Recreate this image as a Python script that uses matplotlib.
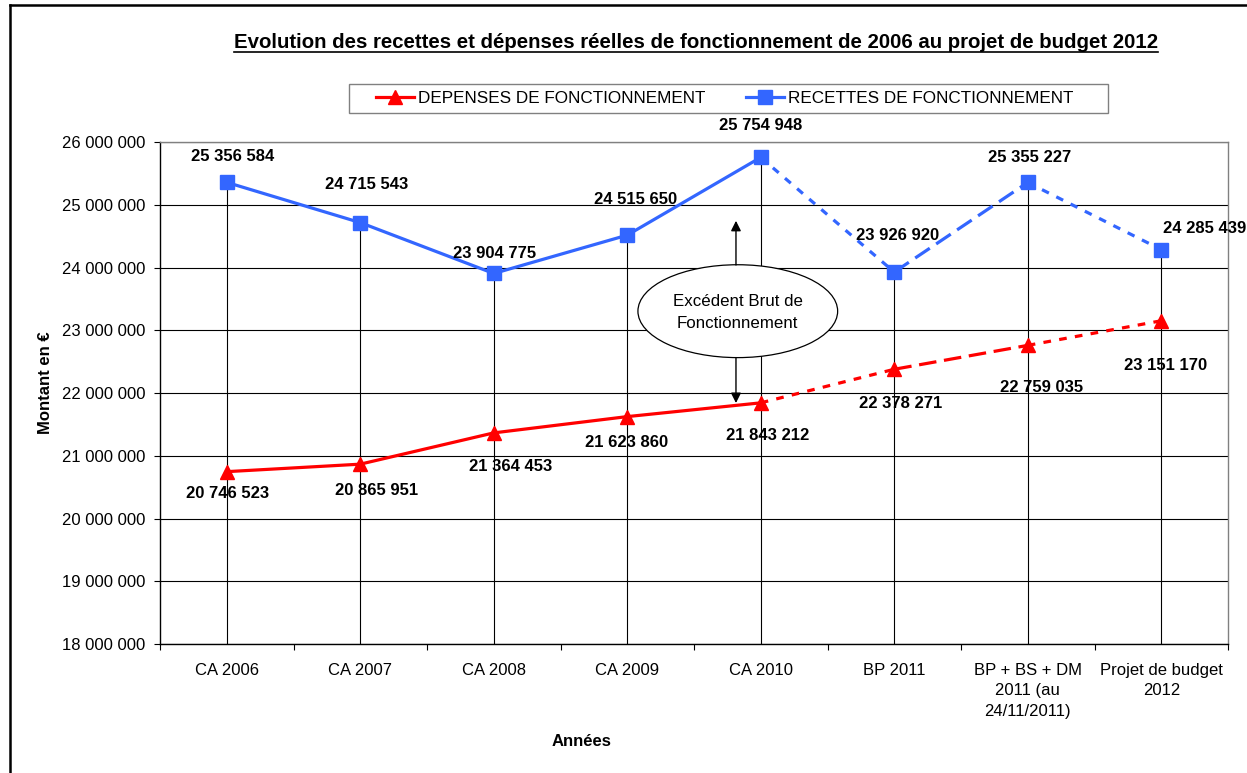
import matplotlib
matplotlib.use("Agg")
import matplotlib.pyplot as plt
from matplotlib.patches import Ellipse, Rectangle
from matplotlib.lines import Line2D
import matplotlib.ticker as mticker

plt.rcParams['font.family'] = ['Liberation Sans', 'DejaVu Sans']

# ---------------- data ----------------
categories = ["CA 2006", "CA 2007", "CA 2008", "CA 2009", "CA 2010", "BP 2011",
              "BP + BS + DM\n2011 (au\n24/11/2011)", "Projet de budget\n2012"]
depenses = [20746523, 20865951, 21364453, 21623860, 21843212, 22378271, 22759035, 23151170]
recettes = [25356584, 24715543, 23904775, 24515650, 25754948, 23926920, 25355227, 24285439]
y_ticks = [18000000, 19000000, 20000000, 21000000, 22000000, 23000000, 24000000, 25000000, 26000000]

title = "Evolution des recettes et dépenses réelles de fonctionnement de 2006 au projet de budget 2012"
legend_labels = ["DEPENSES DE FONCTIONNEMENT", "RECETTES DE FONCTIONNEMENT"]

# ---------------- styles / layout ----------------
W, H = 1247, 773
RED = "#FF0000"
BLUE = "#3366FF"
seg_styles = ['-', '-', '-', '-', (0, (2.4, 2.6)), (0, (5.5, 2.4)), (0, (2.4, 2.6))]
rec_offsets = [(6, 26), (6, 38), (1, 20), (8, 36), (0, 32), (3, 37), (2, 25), (43, 21)]
dep_offsets = [(1, -22), (16, -26), (17, -34), (-1, -26), (7, -33), (6, -34), (14, -42), (4, -45)]

def fmt(v):
    return f"{v:,.0f}".replace(",", " ")

fig = plt.figure(figsize=(W / 100, H / 100), dpi=100)
ax = fig.add_axes([160 / W, (H - 644) / H, (1228 - 160) / W, (644 - 142) / H])

x = list(range(len(categories)))

# drop lines
ax.vlines(x, y_ticks[0], [max(r, d) for r, d in zip(recettes, depenses)],
          color="black", lw=0.8, zorder=2)

LW = 2.3
for series, color, marker, ms in [(depenses, RED, '^', 9.5), (recettes, BLUE, 's', 9.4)]:
    for i in range(len(series) - 1):
        ax.plot([x[i], x[i + 1]], series[i:i + 2], color=color, lw=LW, ls=seg_styles[i],
                solid_capstyle='butt', dash_capstyle='butt', zorder=3)
    ax.plot(x, series, ls='none', marker=marker, ms=ms, color=color, mec=color, zorder=4)

for i, v in enumerate(recettes):
    ax.annotate(fmt(v), (x[i], v), xytext=rec_offsets[i], textcoords='offset pixels',
                ha='center', va='center', fontsize=12, weight='bold', zorder=6)
for i, v in enumerate(depenses):
    ax.annotate(fmt(v), (x[i], v), xytext=dep_offsets[i], textcoords='offset pixels',
                ha='center', va='center', fontsize=12, weight='bold', zorder=6)

# axes
ax.set_xlim(-0.5, len(categories) - 0.5)
ax.set_ylim(y_ticks[0], y_ticks[-1])
ax.set_yticks(y_ticks)
ax.yaxis.set_major_formatter(mticker.FuncFormatter(lambda v, p: fmt(v)))
ax.set_xticks(x)
ax.set_xticklabels(categories)
ax.set_xticks([i - 0.5 for i in range(len(categories) + 1)], minor=True)
ax.tick_params(axis='x', which='major', length=0, pad=14, labelsize=12)
ax.tick_params(axis='x', which='minor', length=4, width=0.8, direction='out', color='black')
ax.tick_params(axis='y', length=4, width=0.8, direction='out', pad=6.5, labelsize=12, color='black')
plt.setp(ax.get_xticklabels(), linespacing=1.42)
ax.yaxis.grid(True, color='black', lw=0.8)
ax.set_axisbelow(True)
for s in ['top', 'right']:
    ax.spines[s].set_color('#808080')
    ax.spines[s].set_linewidth(1.0)
for s in ['left', 'bottom']:
    ax.spines[s].set_color('black')
    ax.spines[s].set_linewidth(1.0)

# ellipse annotation
ell = Ellipse((0.541, 0.663), 0.187, 0.185, transform=ax.transAxes, fc='white',
              ec='black', lw=0.9, zorder=7)
ax.add_patch(ell)
ax.text(0.541, 0.660, "Excédent Brut de\nFonctionnement", transform=ax.transAxes,
        ha='center', va='center', fontsize=12.2, zorder=8, linespacing=1.6)
arrow_kw = dict(arrowstyle='-|>', color='black', lw=1.0, mutation_scale=15,
                shrinkA=0, shrinkB=0)
ax.annotate('', xy=(0.5393, 0.843), xytext=(0.5393, 0.755), xycoords='axes fraction',
            arrowprops=arrow_kw, zorder=8)
ax.annotate('', xy=(0.5393, 0.480), xytext=(0.5393, 0.570), xycoords='axes fraction',
            arrowprops=arrow_kw, zorder=8)

# axis titles
fig.text(45 / W, 1 - 383 / H, "Montant en €", rotation=90, ha='center', va='center',
         fontsize=12, weight='bold')
fig.text(582 / W, 1 - 741 / H, "Années", ha='center', va='center', fontsize=12, weight='bold')

# title with underline
t = fig.text(696 / W, 1 - 43 / H, title, ha='center', va='center', fontsize=14.7, weight='bold')

# legend
fig.add_artist(Rectangle((349 / W, 1 - 113 / H), (1108 - 349) / W, 29 / H,
                         transform=fig.transFigure, fc='white', ec='#808080', lw=1.0))
handles = [Line2D([], [], color=RED, lw=LW, marker='^', ms=9.5),
           Line2D([], [], color=BLUE, lw=LW, marker='s', ms=9.4)]
fig.legend(handles, legend_labels, loc='center left', bbox_to_anchor=(376 / W, 1 - 98.5 / H),
           ncol=2, frameon=False, fontsize=12.3, handlelength=2.2, handletextpad=0.24,
           columnspacing=2.4, borderpad=0, borderaxespad=0)

# figure border (left and top)
fig.add_artist(Line2D([9.5 / W, 9.5 / W], [0, 1 - 4.5 / H], transform=fig.transFigure,
                      color='black', lw=1.8))
fig.add_artist(Line2D([9.5 / W, 1], [1 - 4.5 / H, 1 - 4.5 / H], transform=fig.transFigure,
                      color='black', lw=1.8))

fig.canvas.draw()
bb = t.get_window_extent()
fig.add_artist(Line2D([bb.x0 / W, bb.x1 / W], [1 - 51.5 / H, 1 - 51.5 / H],
                      transform=fig.transFigure, color='black', lw=1.2))

fig.savefig("out.png", dpi=100)
